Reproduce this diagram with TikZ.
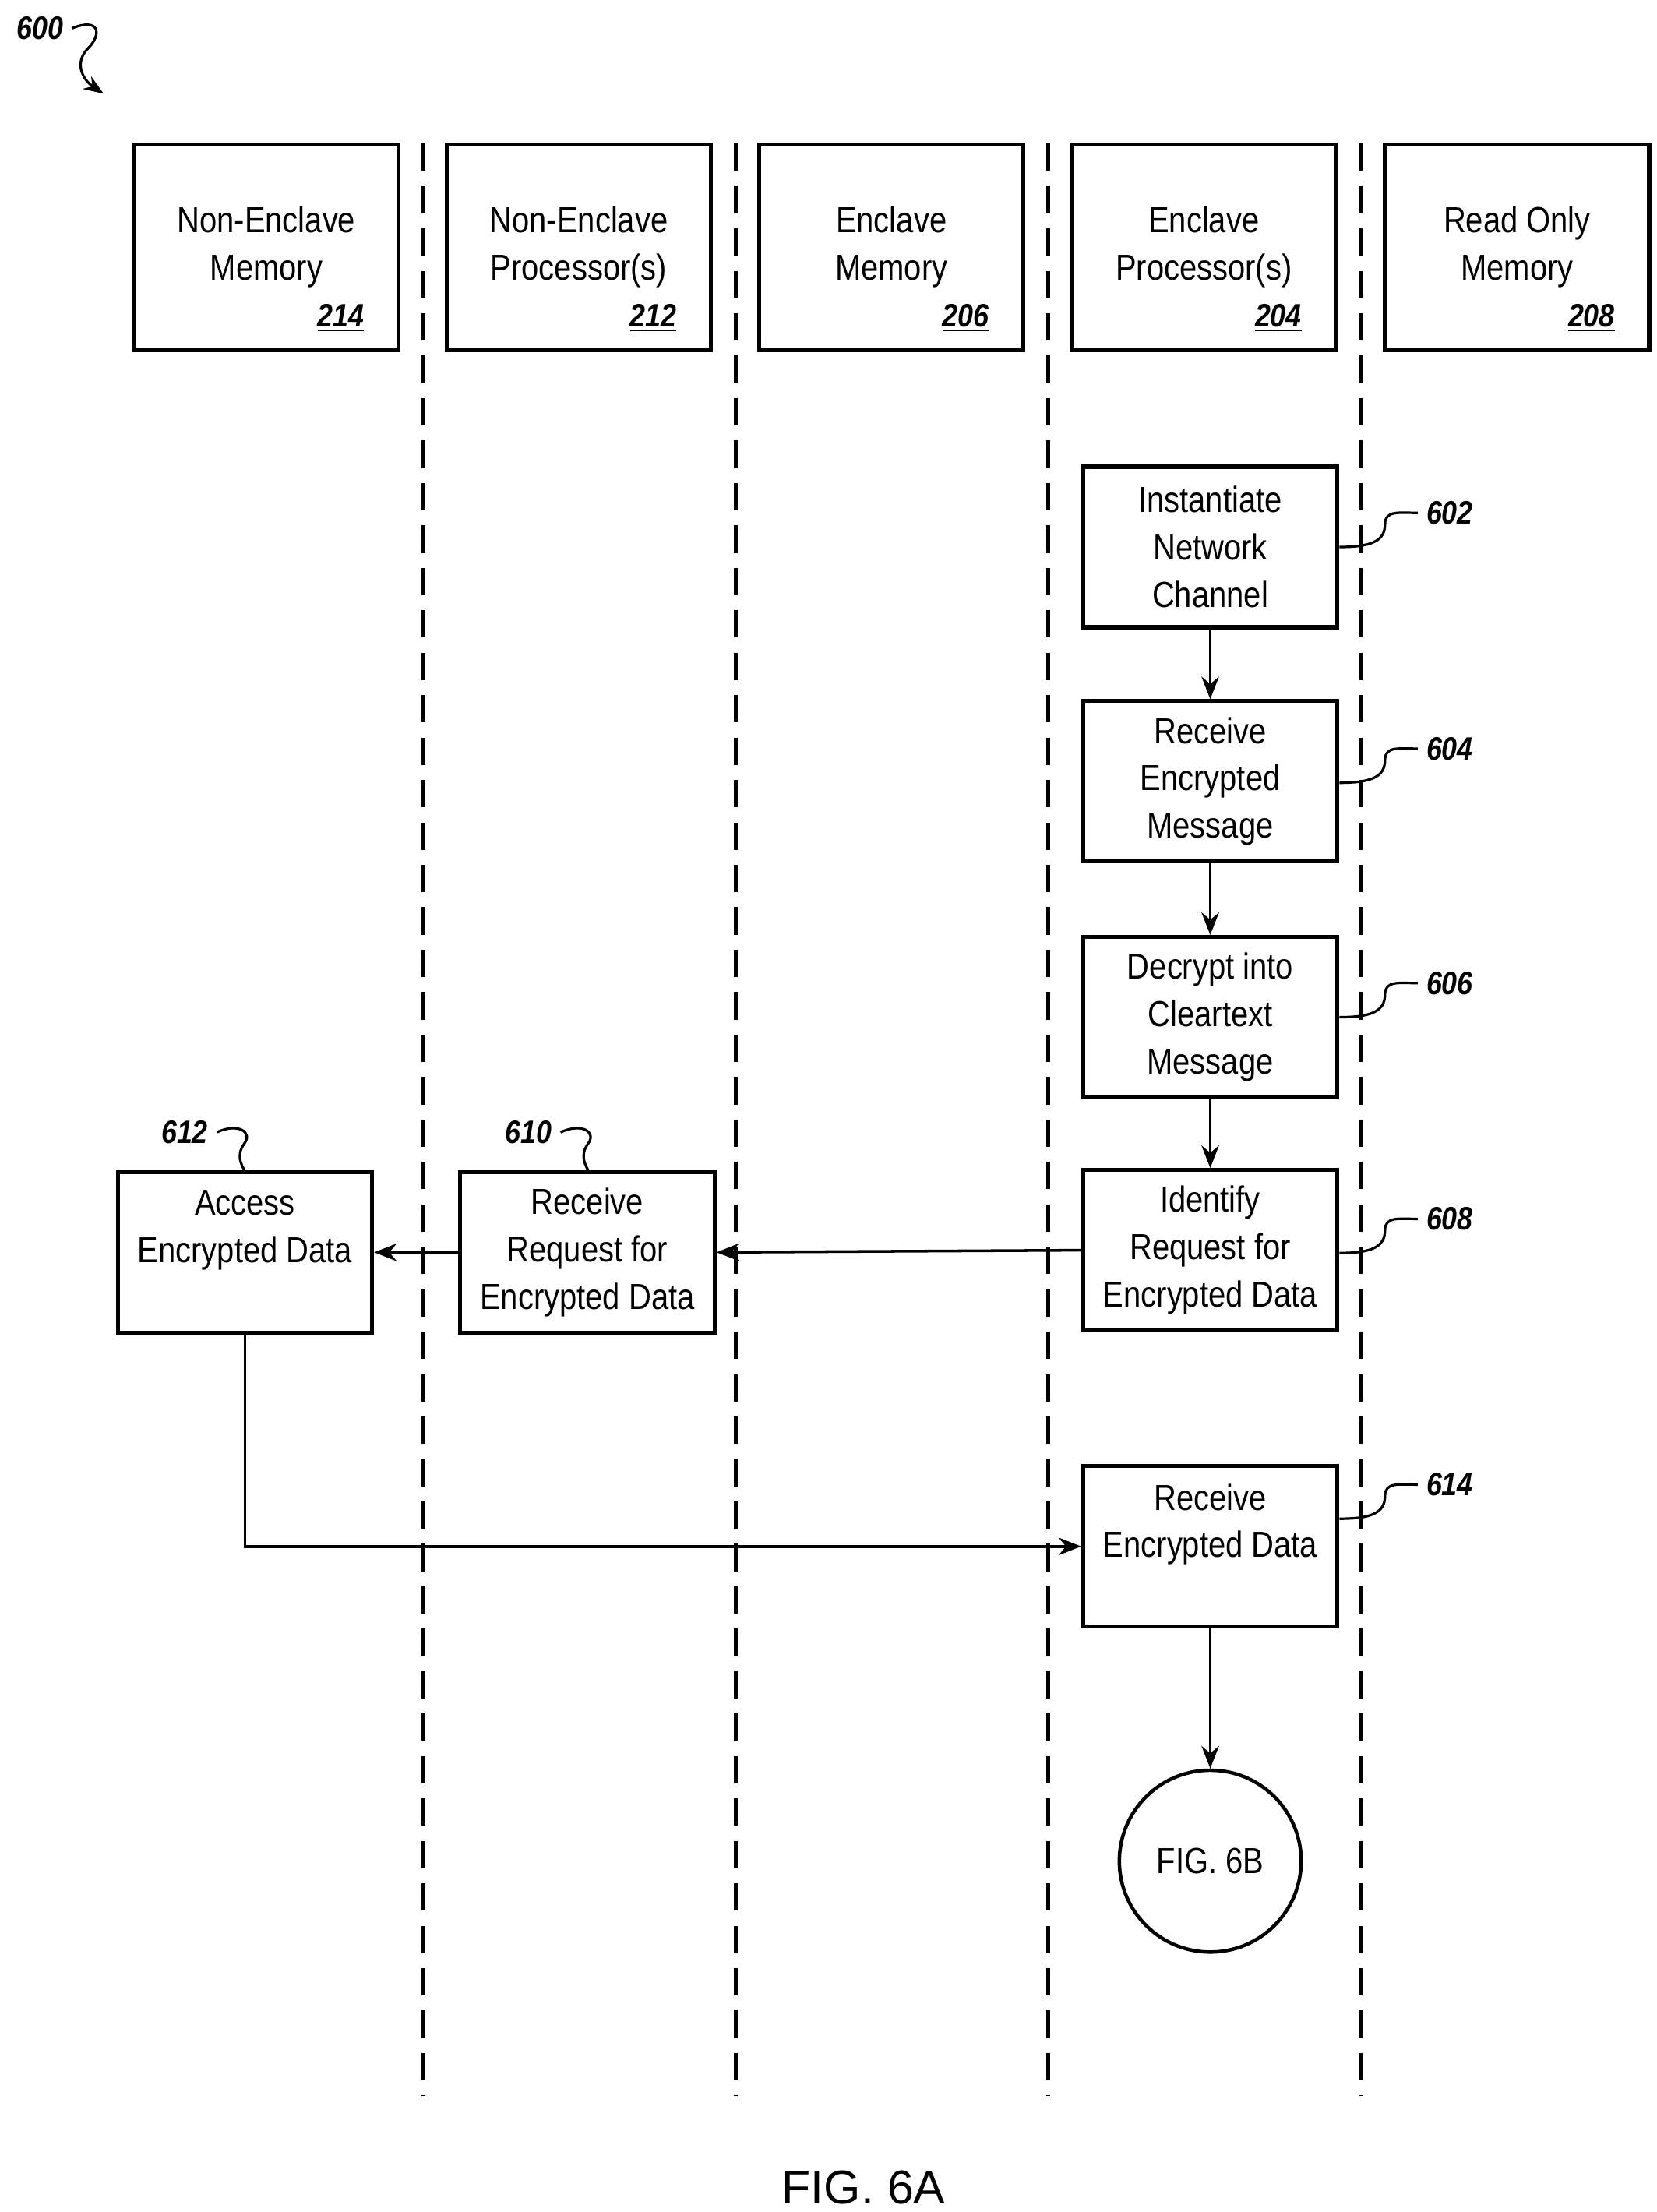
\documentclass[tikz,border=0pt]{standalone}
\usepackage{fontspec}
\setmainfont{Liberation Sans}[FakeStretch=0.86]
\newfontfamily\figfont{Liberation Sans}
\usetikzlibrary{arrows.meta}
\begin{document}
\begin{tikzpicture}[x=0.02cm,y=-0.02cm,
  box/.style={draw,line width=1.6pt,inner sep=0pt,align=center,font=\fontsize{14.5}{19}\selectfont},
  hd/.style={box,minimum width=3.72cm,minimum height=2.9cm},
  st/.style={box,minimum width=3.58cm,minimum height=2.26cm},
  txt/.style={align=center,inner sep=0pt,font=\fontsize{14.5}{19}\selectfont},
  ref/.style={font=\fontsize{13}{15}\selectfont\bfseries\itshape},
  dl/.style={line width=1.6pt,dash pattern=on 11pt off 6pt},
  ar/.style={line width=1.1pt,-{Stealth[length=9pt,width=7pt]}},
  sq/.style={line width=1pt}]
\useasboundingbox (0,0) rectangle (1166,1557);
% headers
\foreach \x/\a/\b/\n [count=\i] in {187.5/Non-Enclave/Memory/214,407.5/Non-Enclave/Processor(s)/212,627.5/Enclave/Memory/206,847.5/Enclave/Processor(s)/204,1068/Read Only/Memory/208}{
  \node[hd] (h\i) at (\x,174) {};
  \node[txt] (ht\i) at (\x,174) {\a\\\b};
  \node[ref,anchor=east] (hn\i) at (\x+75,224) {\underline{\n}};
}
\foreach \x [count=\i] in {298,518,738,958}{
  \coordinate (dt\i) at (\x,101); \coordinate (db\i) at (\x,1475);
  \draw[dl] (dt\i) -- (db\i);}
% steps
\node[st] (s602) at (852,385) {Instantiate\\Network\\Channel};
\node[st] (s604) at (852,550) {Receive\\Encrypted\\Message};
\node[st] (s606) at (852,716) {Decrypt into\\Cleartext\\Message};
\node[st] (s608) at (852,880) {Identify\\Request for\\Encrypted Data};
\node[st] (s610) at (413.5,881.5) {Receive\\Request for\\Encrypted Data};
\node[st] (s612) at (172.5,881.5) {};
\node[txt] (t612) at (172.5,866) {Access\\Encrypted Data};
\node[st] (s614) at (852,1088.5) {};
\node[txt] (t614) at (852,1073) {Receive\\Encrypted Data};
\node[draw,line width=1.4pt,circle,minimum size=2.56cm,font=\fontsize{14.5}{19}\selectfont] (c6b) at (852,1310) {FIG. 6B};
\draw[ar] (s602) -- (s604);
\draw[ar] (s604) -- (s606);
\draw[ar] (s606) -- (s608);
\draw[ar] (s608.west) -- (s610.east);
\draw[ar] (s610.west) -- (s612.east);
\draw[ar] (s612.south) |- (s614.west);
\draw[ar] (s614) -- (c6b);
% refs
\foreach \s/\y in {602/361,604/527,606/692,608/858,614/1045}{
  \node[ref,anchor=west] (r\s) at (998,\y) {\s};
  \draw[sq] (s\s.east |- 0,\y+24) .. controls (965,\y+24) and (975,\y+20) .. (975,\y+8) .. controls (975,\y-2) and (985,\y) .. (r\s.west);
}
\node[ref] (r612) at (130,797) {612};
\draw[sq] (r612.east) .. controls (168,790) and (178,797) .. (172,805) .. controls (166,813) and (170,820) .. (s612.north -| 172,825);
\node[ref] (r610) at (372,797) {610};
\draw[sq] (r610.east) .. controls (410,790) and (420,797) .. (414,805) .. controls (408,813) and (412,820) .. (s610.north -| 414,825);
\node[ref] (r600) at (28,20) {600};
\coordinate (a600) at (73,66);
\draw[sq,-{Stealth[length=8pt,width=6pt]}] (r600.east) .. controls (70,12) and (72,24) .. (62,34) .. controls (52,44) and (58,56) .. (a600);
\node[font=\figfont\fontsize{19}{22}\selectfont] (fig) at (608,1540) {FIG. 6A};
\end{tikzpicture}
\end{document}
